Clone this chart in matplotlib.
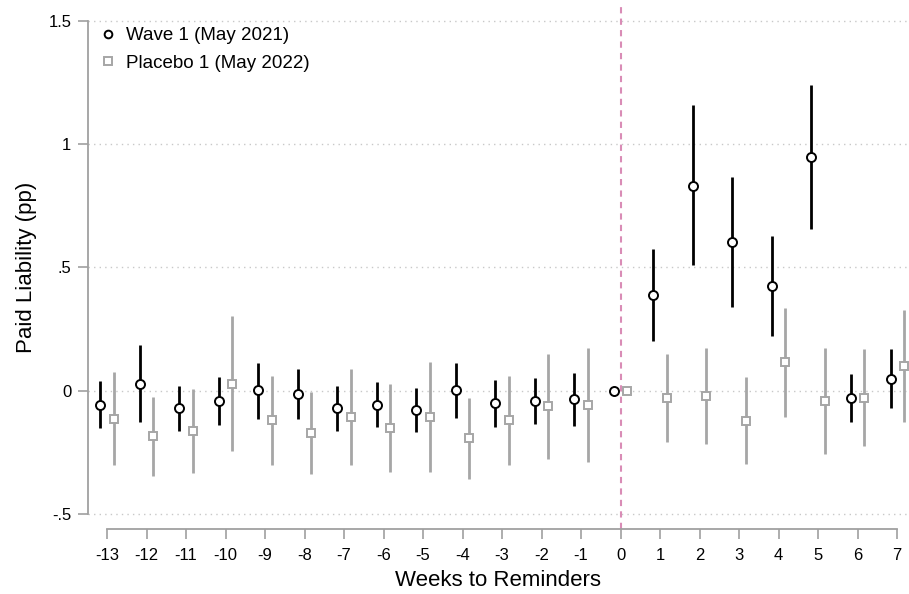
import numpy as np
import matplotlib
matplotlib.use("Agg")
import matplotlib.pyplot as plt

plt.rcParams["font.family"] = ["Liberation Sans", "DejaVu Sans"]

weeks = np.arange(-13, 8)

# Wave 1 (May 2021): point estimate, upper and lower CI
wave_est = [-0.057, 0.028, -0.072, -0.042, 0.001, -0.015, -0.072, -0.057, -0.078, 0.001,
            -0.050, -0.041, -0.034, 0.0, 0.388, 0.832, 0.603, 0.424, 0.948, -0.030, 0.049]
wave_hi = [0.038, 0.185, 0.019, 0.054, 0.114, 0.088, 0.019, 0.035, 0.011, 0.111,
           0.045, 0.051, 0.073, np.nan, 0.575, 1.158, 0.867, 0.627, 1.239, 0.069, 0.169]
wave_lo = [-0.151, -0.127, -0.162, -0.139, -0.114, -0.116, -0.162, -0.149, -0.168, -0.110,
           -0.146, -0.137, -0.143, np.nan, 0.200, 0.510, 0.339, 0.221, 0.655, -0.127, -0.070]

# Placebo 1 (May 2022)
plac_est = [-0.114, -0.185, -0.165, 0.028, -0.120, -0.172, -0.107, -0.150, -0.107, -0.192,
            -0.120, -0.064, -0.057, 0.0, -0.030, -0.021, -0.123, 0.115, -0.043, -0.030, 0.100]
plac_hi = [0.074, -0.024, 0.005, 0.304, 0.061, -0.007, 0.087, 0.028, 0.118, -0.028,
           0.058, 0.149, 0.173, np.nan, 0.149, 0.173, 0.054, 0.335, 0.173, 0.169, 0.327]
plac_lo = [-0.300, -0.348, -0.334, -0.246, -0.303, -0.337, -0.300, -0.330, -0.331, -0.360,
           -0.302, -0.277, -0.288, np.nan, -0.207, -0.216, -0.297, -0.107, -0.258, -0.226, -0.127]

yticks = [-0.5, 0, 0.5, 1, 1.5]
ytick_labels = ["-.5", "0", ".5", "1", "1.5"]

black = "black"
grey = "#a6a6a6"
offset = 0.165

fig = plt.figure(figsize=(9.09, 5.94), dpi=100)
ax = fig.add_axes([88 / 909, 65 / 594, 820 / 909, 524 / 594])

ax.vlines(weeks - offset, wave_lo, wave_hi, color=black, lw=2, zorder=3)
ax.vlines(weeks + offset, plac_lo, plac_hi, color=grey, lw=2, zorder=2)
ax.plot(weeks - offset, wave_est, "o", ms=6.5, mfc="white", mec=black, mew=1.4,
        ls="none", zorder=4, label="Wave 1 (May 2021)")
ax.plot(weeks + offset, plac_est, "s", ms=6, mfc="white", mec=grey, mew=1.4,
        ls="none", zorder=3, label="Placebo 1 (May 2022)")

ax.axvline(0, color="#d98cb6", ls=(0, (3, 2.5)), lw=1.5, zorder=1)

ax.set_xlim(-13.481, 7.278)
ax.set_ylim(-0.561, 1.564)
ax.set_yticks(yticks)
ax.set_yticklabels(ytick_labels)
ax.set_xticks(weeks)
ax.set_xticklabels([str(w) for w in weeks],
                   family=["Liberation Sans Narrow", "Liberation Sans", "DejaVu Sans"])
for y in yticks:
    ax.axhline(y, color="#c8c8c8", ls=(0, (1, 3)), lw=1, zorder=0)

for s in ["top", "right"]:
    ax.spines[s].set_visible(False)
for s in ["left", "bottom"]:
    ax.spines[s].set_color("#a0a0a0")
    ax.spines[s].set_linewidth(1.3)
ax.spines["left"].set_bounds(-0.5, 1.5)
ax.spines["bottom"].set_bounds(-13, 7)
ax.tick_params(axis="both", colors="#a0a0a0", labelcolor="black", length=7,
               width=1.2, labelsize=12)
ax.tick_params(axis="x", pad=7)
ax.tick_params(axis="y", pad=5)

ax.set_xlabel("Weeks to Reminders", fontsize=16, labelpad=5)
ax.set_ylabel("Paid Liability (pp)", fontsize=16, labelpad=8)

ax.legend(loc="upper left", frameon=False, fontsize=13.5, markerscale=0.85,
          handlelength=0.95, handletextpad=0.45, borderaxespad=0.3,
          bbox_to_anchor=(-0.002, 0.983), labelspacing=0.55)

fig.savefig("out.png", dpi=100)
